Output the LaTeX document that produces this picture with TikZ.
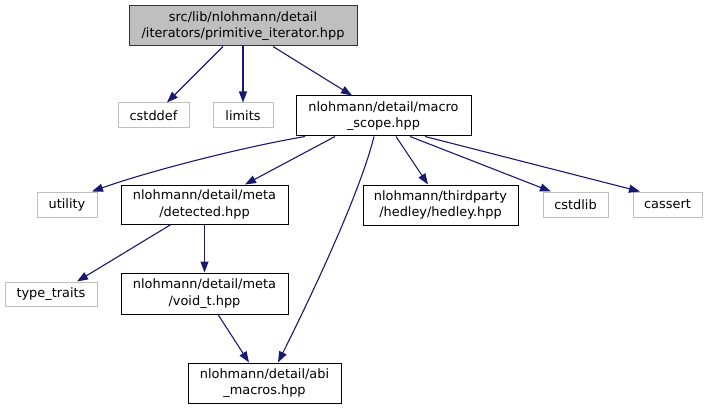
\documentclass[tikz,border=0pt]{standalone}
\usepackage{fontspec}
\setmainfont{DejaVu Sans}
\usetikzlibrary{arrows.meta,calc}
\definecolor{edgec}{HTML}{191970}
\definecolor{grayb}{HTML}{BFBFBF}
\begin{document}
\begin{tikzpicture}[x=1pt,y=-1pt,
  box/.style={draw=black,line width=1pt,inner sep=0pt,align=center,font=\fontsize{12.9}{16.5}\selectfont},
  sysbox/.style={draw=grayb,line width=1pt,inner sep=0pt,align=center,font=\fontsize{12.9}{16.5}\selectfont},
  rootbox/.style={box,fill=grayb,draw=black!80},
  dep/.style={draw=edgec,line width=1.1pt,-{Triangle[length=11pt,width=8pt]}}]
\useasboundingbox (0,0) rectangle (707,409);
\node[rootbox,minimum width=228pt,minimum height=40pt] (prim) at (243,26) {src/lib/nlohmann/detail\\/iterators/primitive\_iterator.hpp};
\node[sysbox,minimum width=71pt,minimum height=25pt] (cstddef) at (153.5,115.5) {cstddef};
\node[sysbox,minimum width=60pt,minimum height=25pt] (limits) at (243,115.5) {limits};
\node[box,minimum width=175pt,minimum height=40pt] (macro) at (383.5,116) {nlohmann/detail/macro\\\_scope.hpp};
\node[sysbox,minimum width=60pt,minimum height=25pt] (utility) at (67,204.5) {utility};
\node[box,minimum width=167pt,minimum height=39pt] (detected) at (204.5,204.5) {nlohmann/detail/meta\\/detected.hpp};
\node[box,minimum width=155pt,minimum height=40pt] (hedley) at (440.5,205) {nlohmann/thirdparty\\/hedley/hedley.hpp};
\node[sysbox,minimum width=65pt,minimum height=25pt] (cstdlib) at (575.5,204.5) {cstdlib};
\node[sysbox,minimum width=69pt,minimum height=25pt] (cassert) at (667.5,204.5) {cassert};
\node[sysbox,minimum width=92pt,minimum height=24pt] (typetraits) at (51,294) {type\_traits};
\node[box,minimum width=167pt,minimum height=41pt] (voidt) at (204.5,293.5) {nlohmann/detail/meta\\/void\_t.hpp};
\node[box,minimum width=153pt,minimum height=40pt] (abi) at (264.5,383) {nlohmann/detail/abi\\\_macros.hpp};

\draw[dep] ([xshift=-20pt]prim.south) -- ([xshift=13.5pt]cstddef.north);
\draw[dep] (prim.south) -- (limits.north);
\draw[dep] ([xshift=30pt]prim.south) -- ([xshift=-31.5pt]macro.north);
\draw[dep] ([xshift=-78.5pt]macro.south) .. controls +(-70,12) and +(50,-18) .. ([xshift=25pt]utility.north);
\draw[dep] ([xshift=-48.5pt]macro.south) -- ([xshift=40.5pt]detected.north);
\draw[dep] ([xshift=-9.5pt]macro.south) .. controls +(-15,60) and +(30,-60) .. ([xshift=13.5pt]abi.north);
\draw[dep] ([xshift=12.5pt]macro.south) -- ([xshift=-12.5pt]hedley.north);
\draw[dep] ([xshift=26.5pt]macro.south) -- ([xshift=-24.5pt]cstdlib.north);
\draw[dep] ([xshift=41.5pt]macro.south) -- ([xshift=-27.5pt]cassert.north);
\draw[dep] ([xshift=-33.5pt]detected.south) -- ([xshift=26pt]typetraits.north);
\draw[dep] (detected.south) -- (voidt.north);
\draw[dep] ([xshift=13.5pt]voidt.south) -- ([xshift=-15.5pt]abi.north);
\end{tikzpicture}
\end{document}
